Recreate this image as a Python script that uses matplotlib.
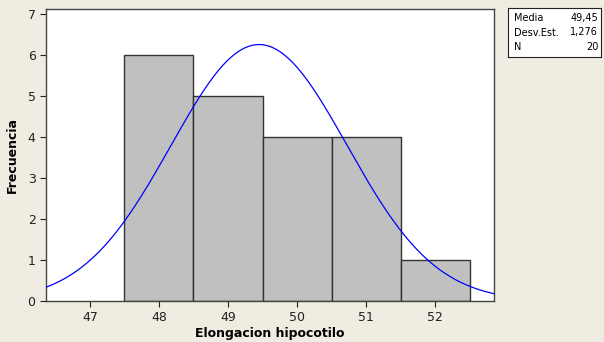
import matplotlib.pyplot as plt
import numpy as np

# histogram data
bin_edges = [47.5, 48.5, 49.5, 50.5, 51.5, 52.5]
counts = [6, 5, 4, 4, 1]
media = 49.45
desv = 1.276
n = 20

fig = plt.figure(figsize=(6.04, 3.42), dpi=100, facecolor='#F0ECE2')
ax = fig.add_axes([46/604, 1 - 301/342, 448/604, 292/342])
ax.set_facecolor('white')

widths = np.diff(bin_edges)
ax.bar(bin_edges[:-1], counts, width=widths, align='edge',
       color='#C0C0C0', edgecolor='#333333', linewidth=1.0, zorder=2)

# fitted normal curve
xs = np.linspace(46.364, 52.853, 400)
ys = n * widths[0] / (desv * np.sqrt(2 * np.pi)) * np.exp(-0.5 * ((xs - media) / desv) ** 2)
ax.plot(xs, ys, color='#0000FF', linewidth=0.9, zorder=3)

ax.set_xlim(46.364, 52.853)
ax.set_ylim(0, 7.12)
ax.set_xticks([47, 48, 49, 50, 51, 52])
ax.set_yticks(range(0, 8))
ax.tick_params(direction='out', length=4, labelsize=9, colors='#222222')
for s in ax.spines.values():
    s.set_color('#444444')
    s.set_linewidth(1.0)

ax.set_xlabel('Elongacion hipocotilo', fontsize=9, fontweight='bold', labelpad=2)
ax.set_ylabel('Frecuencia', fontsize=9, fontweight='bold', labelpad=6)

# statistics box
bx = fig.add_axes([508/604, 1 - 57/342, 93/604, 49/342])
bx.set_xticks([])
bx.set_yticks([])
bx.set_facecolor('white')
for s in bx.spines.values():
    s.set_color('#222222')
    s.set_linewidth(0.8)
labels = ['Media', 'Desv.Est.', 'N']
values = ['49,45', '1,276', '20']
for i, (lab, val) in enumerate(zip(labels, values)):
    y = 0.8 - i * 0.3
    bx.text(0.06, y, lab, fontsize=7, va='center', ha='left', transform=bx.transAxes)
    bx.text(0.97, y, val, fontsize=7, va='center', ha='right', transform=bx.transAxes)

fig.savefig('out.png', dpi=100, facecolor=fig.get_facecolor())
